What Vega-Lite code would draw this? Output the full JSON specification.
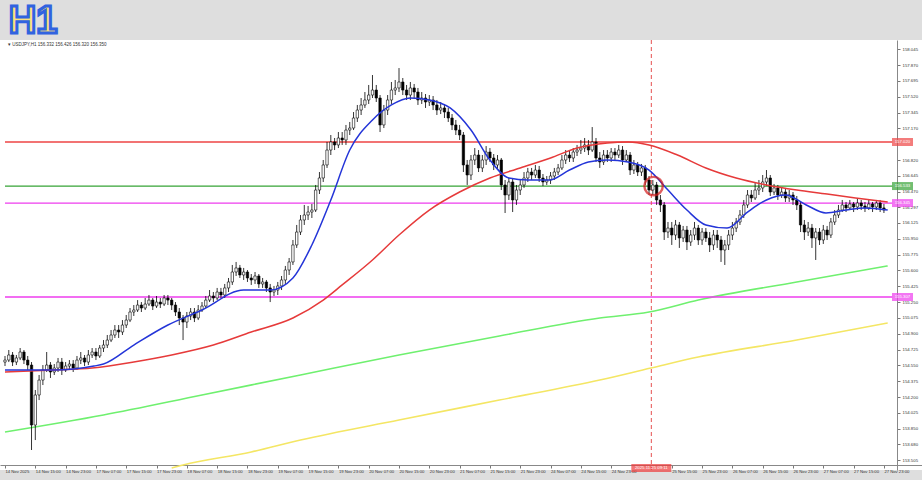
{
"$schema": "https://vega.github.io/schema/vega-lite/v6.json",
"width": 922, "height": 430,
"autosize": {"type": "none"},
"padding": {"left": 0, "top": 40, "right": 0, "bottom": 10},
"background": "#dedede",
"view": {"fill": "#ffffff", "stroke": null},
"config": {"font": "Liberation Sans",
 "axis": {"labelOverlap": false, "labelBound": false, "labelFlush": false, "labelSeparation": 0, "labelFont": "Liberation Sans"},
 "axisQuantitative": {"labelOverlap": false},
 "axisX": {"labelOverlap": false}, "axisY": {"labelOverlap": false}},
"resolve": {"axis": {"x": "independent", "y": "independent"}},
"datasets": {
"candles": [
{"i":0,"o":154.588,"h":154.655,"l":154.544,"c":154.610},
{"i":1,"o":154.610,"h":154.721,"l":154.588,"c":154.666},
{"i":2,"o":154.666,"h":154.699,"l":154.544,"c":154.588},
{"i":3,"o":154.588,"h":154.666,"l":154.555,"c":154.633},
{"i":4,"o":154.633,"h":154.743,"l":154.610,"c":154.699},
{"i":5,"o":154.699,"h":154.721,"l":154.566,"c":154.610},
{"i":6,"o":154.610,"h":154.655,"l":154.500,"c":154.555},
{"i":7,"o":154.555,"h":154.588,"l":153.616,"c":153.892},
{"i":8,"o":153.892,"h":154.279,"l":153.726,"c":154.224},
{"i":9,"o":154.224,"h":154.445,"l":154.168,"c":154.389},
{"i":10,"o":154.389,"h":154.555,"l":154.334,"c":154.500},
{"i":11,"o":154.500,"h":154.699,"l":154.478,"c":154.555},
{"i":12,"o":154.555,"h":154.588,"l":154.412,"c":154.478},
{"i":13,"o":154.478,"h":154.566,"l":154.445,"c":154.522},
{"i":14,"o":154.522,"h":154.633,"l":154.478,"c":154.588},
{"i":15,"o":154.588,"h":154.633,"l":154.445,"c":154.500},
{"i":16,"o":154.500,"h":154.588,"l":154.478,"c":154.544},
{"i":17,"o":154.544,"h":154.610,"l":154.500,"c":154.566},
{"i":18,"o":154.566,"h":154.610,"l":154.478,"c":154.522},
{"i":19,"o":154.522,"h":154.655,"l":154.500,"c":154.610},
{"i":20,"o":154.610,"h":154.699,"l":154.566,"c":154.633},
{"i":21,"o":154.633,"h":154.666,"l":154.544,"c":154.588},
{"i":22,"o":154.588,"h":154.721,"l":154.555,"c":154.666},
{"i":23,"o":154.666,"h":154.743,"l":154.633,"c":154.699},
{"i":24,"o":154.699,"h":154.743,"l":154.610,"c":154.655},
{"i":25,"o":154.655,"h":154.776,"l":154.633,"c":154.743},
{"i":26,"o":154.743,"h":154.831,"l":154.699,"c":154.776},
{"i":27,"o":154.776,"h":154.887,"l":154.743,"c":154.831},
{"i":28,"o":154.831,"h":154.942,"l":154.809,"c":154.887},
{"i":29,"o":154.887,"h":154.997,"l":154.854,"c":154.942},
{"i":30,"o":154.942,"h":154.997,"l":154.854,"c":154.920},
{"i":31,"o":154.920,"h":155.052,"l":154.887,"c":154.997},
{"i":32,"o":154.997,"h":155.108,"l":154.964,"c":155.052},
{"i":33,"o":155.052,"h":155.185,"l":155.030,"c":155.141},
{"i":34,"o":155.141,"h":155.218,"l":155.097,"c":155.163},
{"i":35,"o":155.163,"h":155.273,"l":155.141,"c":155.218},
{"i":36,"o":155.218,"h":155.251,"l":155.141,"c":155.185},
{"i":37,"o":155.185,"h":155.296,"l":155.163,"c":155.229},
{"i":38,"o":155.229,"h":155.329,"l":155.207,"c":155.273},
{"i":39,"o":155.273,"h":155.296,"l":155.163,"c":155.207},
{"i":40,"o":155.207,"h":155.318,"l":155.185,"c":155.251},
{"i":41,"o":155.251,"h":155.296,"l":155.185,"c":155.229},
{"i":42,"o":155.229,"h":155.329,"l":155.207,"c":155.296},
{"i":43,"o":155.296,"h":155.329,"l":155.218,"c":155.273},
{"i":44,"o":155.273,"h":155.296,"l":155.163,"c":155.218},
{"i":45,"o":155.218,"h":155.251,"l":155.097,"c":155.141},
{"i":46,"o":155.141,"h":155.185,"l":154.997,"c":155.075},
{"i":47,"o":155.075,"h":155.108,"l":154.831,"c":155.030},
{"i":48,"o":155.030,"h":155.141,"l":154.964,"c":155.097},
{"i":49,"o":155.097,"h":155.185,"l":155.052,"c":155.141},
{"i":50,"o":155.141,"h":155.185,"l":155.030,"c":155.075},
{"i":51,"o":155.075,"h":155.218,"l":155.052,"c":155.163},
{"i":52,"o":155.163,"h":155.251,"l":155.141,"c":155.207},
{"i":53,"o":155.207,"h":155.318,"l":155.185,"c":155.273},
{"i":54,"o":155.273,"h":155.384,"l":155.251,"c":155.318},
{"i":55,"o":155.318,"h":155.362,"l":155.251,"c":155.296},
{"i":56,"o":155.296,"h":155.407,"l":155.273,"c":155.362},
{"i":57,"o":155.362,"h":155.407,"l":155.296,"c":155.329},
{"i":58,"o":155.329,"h":155.451,"l":155.296,"c":155.407},
{"i":59,"o":155.407,"h":155.517,"l":155.362,"c":155.473},
{"i":60,"o":155.473,"h":155.661,"l":155.440,"c":155.583},
{"i":61,"o":155.583,"h":155.694,"l":155.539,"c":155.628},
{"i":62,"o":155.628,"h":155.661,"l":155.517,"c":155.550},
{"i":63,"o":155.550,"h":155.628,"l":155.495,"c":155.583},
{"i":64,"o":155.583,"h":155.605,"l":155.473,"c":155.517},
{"i":65,"o":155.517,"h":155.561,"l":155.440,"c":155.495},
{"i":66,"o":155.495,"h":155.583,"l":155.451,"c":155.539},
{"i":67,"o":155.539,"h":155.561,"l":155.407,"c":155.451},
{"i":68,"o":155.451,"h":155.517,"l":155.407,"c":155.473},
{"i":69,"o":155.473,"h":155.495,"l":155.362,"c":155.407},
{"i":70,"o":155.407,"h":155.451,"l":155.251,"c":155.362},
{"i":71,"o":155.362,"h":155.429,"l":155.318,"c":155.384},
{"i":72,"o":155.384,"h":155.473,"l":155.329,"c":155.429},
{"i":73,"o":155.429,"h":155.539,"l":155.384,"c":155.495},
{"i":74,"o":155.495,"h":155.650,"l":155.451,"c":155.605},
{"i":75,"o":155.605,"h":155.738,"l":155.550,"c":155.694},
{"i":76,"o":155.694,"h":155.937,"l":155.661,"c":155.882},
{"i":77,"o":155.882,"h":156.103,"l":155.849,"c":156.025},
{"i":78,"o":156.025,"h":156.213,"l":155.992,"c":156.158},
{"i":79,"o":156.158,"h":156.324,"l":156.103,"c":156.213},
{"i":80,"o":156.213,"h":156.313,"l":156.158,"c":156.246},
{"i":81,"o":156.246,"h":156.335,"l":156.180,"c":156.268},
{"i":82,"o":156.268,"h":156.545,"l":156.246,"c":156.489},
{"i":83,"o":156.489,"h":156.688,"l":156.445,"c":156.622},
{"i":84,"o":156.622,"h":156.821,"l":156.578,"c":156.766},
{"i":85,"o":156.766,"h":157.020,"l":156.733,"c":156.931},
{"i":86,"o":156.931,"h":157.097,"l":156.876,"c":157.020},
{"i":87,"o":157.020,"h":157.064,"l":156.931,"c":156.987},
{"i":88,"o":156.987,"h":157.130,"l":156.953,"c":157.064},
{"i":89,"o":157.064,"h":157.130,"l":156.987,"c":157.042},
{"i":90,"o":157.042,"h":157.208,"l":156.987,"c":157.152},
{"i":91,"o":157.152,"h":157.241,"l":157.097,"c":157.174},
{"i":92,"o":157.174,"h":157.351,"l":157.152,"c":157.285},
{"i":93,"o":157.285,"h":157.429,"l":157.241,"c":157.373},
{"i":94,"o":157.373,"h":157.506,"l":157.318,"c":157.429},
{"i":95,"o":157.429,"h":157.572,"l":157.396,"c":157.484},
{"i":96,"o":157.484,"h":157.650,"l":157.440,"c":157.539},
{"i":97,"o":157.539,"h":157.760,"l":157.506,"c":157.594},
{"i":98,"o":157.594,"h":157.650,"l":157.462,"c":157.506},
{"i":99,"o":157.506,"h":157.539,"l":157.130,"c":157.208},
{"i":100,"o":157.208,"h":157.429,"l":157.174,"c":157.373},
{"i":101,"o":157.373,"h":157.539,"l":157.318,"c":157.484},
{"i":102,"o":157.484,"h":157.683,"l":157.440,"c":157.594},
{"i":103,"o":157.594,"h":157.705,"l":157.539,"c":157.617},
{"i":104,"o":157.617,"h":157.837,"l":157.572,"c":157.683},
{"i":105,"o":157.683,"h":157.727,"l":157.539,"c":157.594},
{"i":106,"o":157.594,"h":157.650,"l":157.484,"c":157.539},
{"i":107,"o":157.539,"h":157.683,"l":157.484,"c":157.617},
{"i":108,"o":157.617,"h":157.661,"l":157.506,"c":157.572},
{"i":109,"o":157.572,"h":157.617,"l":157.429,"c":157.484},
{"i":110,"o":157.484,"h":157.572,"l":157.440,"c":157.506},
{"i":111,"o":157.506,"h":157.550,"l":157.396,"c":157.462},
{"i":112,"o":157.462,"h":157.539,"l":157.418,"c":157.484},
{"i":113,"o":157.484,"h":157.528,"l":157.373,"c":157.429},
{"i":114,"o":157.429,"h":157.484,"l":157.318,"c":157.373},
{"i":115,"o":157.373,"h":157.462,"l":157.329,"c":157.396},
{"i":116,"o":157.396,"h":157.440,"l":157.285,"c":157.351},
{"i":117,"o":157.351,"h":157.396,"l":157.241,"c":157.285},
{"i":118,"o":157.285,"h":157.329,"l":157.152,"c":157.208},
{"i":119,"o":157.208,"h":157.263,"l":157.097,"c":157.152},
{"i":120,"o":157.152,"h":157.208,"l":157.042,"c":157.097},
{"i":121,"o":157.097,"h":157.130,"l":156.688,"c":156.766},
{"i":122,"o":156.766,"h":156.821,"l":156.545,"c":156.655},
{"i":123,"o":156.655,"h":156.876,"l":156.600,"c":156.821},
{"i":124,"o":156.821,"h":156.953,"l":156.766,"c":156.876},
{"i":125,"o":156.876,"h":156.931,"l":156.688,"c":156.733},
{"i":126,"o":156.733,"h":156.876,"l":156.688,"c":156.821},
{"i":127,"o":156.821,"h":156.975,"l":156.766,"c":156.909},
{"i":128,"o":156.909,"h":156.953,"l":156.799,"c":156.843},
{"i":129,"o":156.843,"h":156.887,"l":156.710,"c":156.766},
{"i":130,"o":156.766,"h":156.876,"l":156.710,"c":156.821},
{"i":131,"o":156.821,"h":156.843,"l":156.489,"c":156.545},
{"i":132,"o":156.545,"h":156.600,"l":156.235,"c":156.434},
{"i":133,"o":156.434,"h":156.622,"l":156.379,"c":156.578},
{"i":134,"o":156.578,"h":156.622,"l":156.246,"c":156.379},
{"i":135,"o":156.379,"h":156.545,"l":156.324,"c":156.489},
{"i":136,"o":156.489,"h":156.600,"l":156.434,"c":156.545},
{"i":137,"o":156.545,"h":156.688,"l":156.512,"c":156.622},
{"i":138,"o":156.622,"h":156.733,"l":156.578,"c":156.688},
{"i":139,"o":156.688,"h":156.733,"l":156.600,"c":156.655},
{"i":140,"o":156.655,"h":156.766,"l":156.622,"c":156.710},
{"i":141,"o":156.710,"h":156.755,"l":156.578,"c":156.622},
{"i":142,"o":156.622,"h":156.666,"l":156.533,"c":156.578},
{"i":143,"o":156.578,"h":156.644,"l":156.545,"c":156.600},
{"i":144,"o":156.600,"h":156.688,"l":156.556,"c":156.644},
{"i":145,"o":156.644,"h":156.733,"l":156.600,"c":156.688},
{"i":146,"o":156.688,"h":156.777,"l":156.655,"c":156.733},
{"i":147,"o":156.733,"h":156.876,"l":156.710,"c":156.821},
{"i":148,"o":156.821,"h":156.931,"l":156.777,"c":156.876},
{"i":149,"o":156.876,"h":156.931,"l":156.799,"c":156.843},
{"i":150,"o":156.843,"h":156.953,"l":156.799,"c":156.909},
{"i":151,"o":156.909,"h":156.987,"l":156.865,"c":156.931},
{"i":152,"o":156.931,"h":157.042,"l":156.887,"c":156.953},
{"i":153,"o":156.953,"h":157.064,"l":156.909,"c":156.987},
{"i":154,"o":156.987,"h":157.042,"l":156.876,"c":156.931},
{"i":155,"o":156.931,"h":157.185,"l":156.909,"c":157.020},
{"i":156,"o":157.020,"h":157.064,"l":156.799,"c":156.843},
{"i":157,"o":156.843,"h":156.909,"l":156.733,"c":156.799},
{"i":158,"o":156.799,"h":156.931,"l":156.766,"c":156.876},
{"i":159,"o":156.876,"h":156.931,"l":156.799,"c":156.843},
{"i":160,"o":156.843,"h":156.953,"l":156.799,"c":156.909},
{"i":161,"o":156.909,"h":156.953,"l":156.821,"c":156.876},
{"i":162,"o":156.876,"h":156.987,"l":156.843,"c":156.931},
{"i":163,"o":156.931,"h":156.975,"l":156.766,"c":156.821},
{"i":164,"o":156.821,"h":156.931,"l":156.799,"c":156.876},
{"i":165,"o":156.876,"h":156.909,"l":156.655,"c":156.710},
{"i":166,"o":156.710,"h":156.821,"l":156.666,"c":156.766},
{"i":167,"o":156.766,"h":156.799,"l":156.644,"c":156.688},
{"i":168,"o":156.688,"h":156.777,"l":156.644,"c":156.733},
{"i":169,"o":156.733,"h":156.766,"l":156.545,"c":156.600},
{"i":170,"o":156.600,"h":156.644,"l":156.434,"c":156.489},
{"i":171,"o":156.489,"h":156.600,"l":156.434,"c":156.545},
{"i":172,"o":156.545,"h":156.578,"l":156.324,"c":156.379},
{"i":173,"o":156.379,"h":156.434,"l":156.246,"c":156.324},
{"i":174,"o":156.324,"h":156.357,"l":155.937,"c":156.025},
{"i":175,"o":156.025,"h":156.136,"l":155.959,"c":156.069},
{"i":176,"o":156.069,"h":156.136,"l":155.882,"c":155.992},
{"i":177,"o":155.992,"h":156.158,"l":155.937,"c":156.103},
{"i":178,"o":156.103,"h":156.136,"l":155.849,"c":155.959},
{"i":179,"o":155.959,"h":156.092,"l":155.915,"c":156.047},
{"i":180,"o":156.047,"h":156.092,"l":155.826,"c":155.915},
{"i":181,"o":155.915,"h":156.047,"l":155.871,"c":155.992},
{"i":182,"o":155.992,"h":156.136,"l":155.937,"c":156.069},
{"i":183,"o":156.069,"h":156.103,"l":155.882,"c":155.937},
{"i":184,"o":155.937,"h":156.069,"l":155.882,"c":156.025},
{"i":185,"o":156.025,"h":156.069,"l":155.915,"c":155.959},
{"i":186,"o":155.959,"h":156.025,"l":155.804,"c":155.882},
{"i":187,"o":155.882,"h":156.047,"l":155.826,"c":155.992},
{"i":188,"o":155.992,"h":156.047,"l":155.849,"c":155.937},
{"i":189,"o":155.937,"h":155.981,"l":155.694,"c":155.826},
{"i":190,"o":155.826,"h":155.937,"l":155.661,"c":155.882},
{"i":191,"o":155.882,"h":156.047,"l":155.826,"c":155.992},
{"i":192,"o":155.992,"h":156.136,"l":155.937,"c":156.069},
{"i":193,"o":156.069,"h":156.180,"l":156.025,"c":156.136},
{"i":194,"o":156.136,"h":156.268,"l":156.103,"c":156.213},
{"i":195,"o":156.213,"h":156.379,"l":156.180,"c":156.324},
{"i":196,"o":156.324,"h":156.489,"l":156.291,"c":156.434},
{"i":197,"o":156.434,"h":156.489,"l":156.357,"c":156.401},
{"i":198,"o":156.401,"h":156.578,"l":156.379,"c":156.489},
{"i":199,"o":156.489,"h":156.600,"l":156.434,"c":156.512},
{"i":200,"o":156.512,"h":156.655,"l":156.467,"c":156.578},
{"i":201,"o":156.578,"h":156.710,"l":156.533,"c":156.622},
{"i":202,"o":156.622,"h":156.655,"l":156.423,"c":156.467},
{"i":203,"o":156.467,"h":156.556,"l":156.434,"c":156.512},
{"i":204,"o":156.512,"h":156.545,"l":156.379,"c":156.434},
{"i":205,"o":156.434,"h":156.512,"l":156.401,"c":156.467},
{"i":206,"o":156.467,"h":156.512,"l":156.357,"c":156.401},
{"i":207,"o":156.401,"h":156.489,"l":156.357,"c":156.434},
{"i":208,"o":156.434,"h":156.467,"l":156.324,"c":156.379},
{"i":209,"o":156.379,"h":156.423,"l":156.268,"c":156.324},
{"i":210,"o":156.324,"h":156.357,"l":156.025,"c":156.103},
{"i":211,"o":156.103,"h":156.158,"l":155.937,"c":156.025},
{"i":212,"o":156.025,"h":156.136,"l":155.981,"c":156.069},
{"i":213,"o":156.069,"h":156.114,"l":155.849,"c":155.959},
{"i":214,"o":155.959,"h":156.069,"l":155.716,"c":156.025},
{"i":215,"o":156.025,"h":156.069,"l":155.882,"c":155.937},
{"i":216,"o":155.937,"h":156.103,"l":155.893,"c":156.047},
{"i":217,"o":156.047,"h":156.092,"l":155.937,"c":155.992},
{"i":218,"o":155.992,"h":156.180,"l":155.959,"c":156.136},
{"i":219,"o":156.136,"h":156.268,"l":156.103,"c":156.213},
{"i":220,"o":156.213,"h":156.324,"l":156.180,"c":156.268},
{"i":221,"o":156.268,"h":156.379,"l":156.246,"c":156.324},
{"i":222,"o":156.324,"h":156.357,"l":156.246,"c":156.291},
{"i":223,"o":156.291,"h":156.379,"l":156.268,"c":156.335},
{"i":224,"o":156.335,"h":156.357,"l":156.246,"c":156.302},
{"i":225,"o":156.302,"h":156.401,"l":156.268,"c":156.346},
{"i":226,"o":156.346,"h":156.379,"l":156.268,"c":156.313},
{"i":227,"o":156.313,"h":156.357,"l":156.246,"c":156.291},
{"i":228,"o":156.291,"h":156.379,"l":156.268,"c":156.335},
{"i":229,"o":156.335,"h":156.357,"l":156.246,"c":156.302},
{"i":230,"o":156.302,"h":156.379,"l":156.268,"c":156.346},
{"i":231,"o":156.346,"h":156.379,"l":156.246,"c":156.291},
{"i":232,"o":156.291,"h":156.335,"l":156.235,"c":156.268}
],
"ma": [
{"s":"blue","i":0,"v":154.500},{"s":"blue","i":13,"v":154.500},{"s":"blue","i":23.5,"v":154.544},{"s":"blue","i":26,"v":154.566},{"s":"blue","i":34,"v":154.776},{"s":"blue","i":43,"v":154.997},{"s":"blue","i":52,"v":155.163},{"s":"blue","i":63,"v":155.384},{"s":"blue","i":70,"v":155.384},{"s":"blue","i":76,"v":155.517},{"s":"blue","i":81,"v":155.882},{"s":"blue","i":86,"v":156.379},{"s":"blue","i":91,"v":156.931},{"s":"blue","i":97,"v":157.263},{"s":"blue","i":102,"v":157.429},{"s":"blue","i":107,"v":157.506},{"s":"blue","i":112,"v":157.484},{"s":"blue","i":117.5,"v":157.396},{"s":"blue","i":123,"v":157.152},{"s":"blue","i":128,"v":156.821},{"s":"blue","i":133,"v":156.622},{"s":"blue","i":138,"v":156.600},{"s":"blue","i":143.6,"v":156.600},{"s":"blue","i":149,"v":156.710},{"s":"blue","i":154,"v":156.799},{"s":"blue","i":159,"v":156.821},{"s":"blue","i":164.5,"v":156.799},{"s":"blue","i":170,"v":156.710},{"s":"blue","i":175,"v":156.489},{"s":"blue","i":180,"v":156.268},{"s":"blue","i":185,"v":156.103},{"s":"blue","i":190.6,"v":156.069},{"s":"blue","i":196,"v":156.246},{"s":"blue","i":201,"v":156.379},{"s":"blue","i":206,"v":156.434},{"s":"blue","i":211.5,"v":156.324},{"s":"blue","i":216.7,"v":156.235},{"s":"blue","i":222,"v":156.268},{"s":"blue","i":227,"v":156.291},{"s":"blue","i":233,"v":156.268},
{"s":"red","i":0,"v":154.478},{"s":"red","i":13,"v":154.500},{"s":"red","i":23,"v":154.522},{"s":"red","i":34,"v":154.588},{"s":"red","i":44,"v":154.666},{"s":"red","i":55,"v":154.776},{"s":"red","i":65,"v":154.920},{"s":"red","i":76,"v":155.075},{"s":"red","i":84,"v":155.273},{"s":"red","i":89,"v":155.440},{"s":"red","i":97,"v":155.716},{"s":"red","i":104,"v":155.992},{"s":"red","i":112,"v":156.268},{"s":"red","i":120,"v":156.467},{"s":"red","i":128,"v":156.622},{"s":"red","i":136,"v":156.733},{"s":"red","i":144,"v":156.843},{"s":"red","i":151,"v":156.953},{"s":"red","i":159,"v":157.009},{"s":"red","i":164.5,"v":157.020},{"s":"red","i":170,"v":156.987},{"s":"red","i":177.5,"v":156.876},{"s":"red","i":185,"v":156.733},{"s":"red","i":193,"v":156.622},{"s":"red","i":201,"v":156.545},{"s":"red","i":209,"v":156.489},{"s":"red","i":217,"v":156.445},{"s":"red","i":224.5,"v":156.401},{"s":"red","i":233,"v":156.357},
{"s":"green","i":0,"v":153.815},{"s":"green","i":26,"v":154.003},{"s":"green","i":52,"v":154.224},{"s":"green","i":78,"v":154.445},{"s":"green","i":104,"v":154.666},{"s":"green","i":130.5,"v":154.876},{"s":"green","i":157,"v":155.075},{"s":"green","i":170,"v":155.141},{"s":"green","i":183,"v":155.273},{"s":"green","i":209,"v":155.473},{"s":"green","i":233,"v":155.650},
{"s":"yellow","i":44,"v":153.417},{"s":"yellow","i":47,"v":153.450},{"s":"yellow","i":65,"v":153.594},{"s":"yellow","i":78,"v":153.726},{"s":"yellow","i":104,"v":153.947},{"s":"yellow","i":130.5,"v":154.168},{"s":"yellow","i":157,"v":154.389},{"s":"yellow","i":170.5,"v":154.522},{"s":"yellow","i":183,"v":154.643},{"s":"yellow","i":209,"v":154.831},{"s":"yellow","i":233,"v":155.019}
],
"levels": [
{"k":"r","p":157.020},{"k":"g","p":156.533},{"k":"m1","p":156.345},{"k":"m2","p":155.307}
],
"cursor": [{"i":170.6,"p":153.417,"t":"2025.11.25 09:11"}],
"circle": [{"i":171.2,"p":156.533}],
"header": [{"i":0.8,"p":158.092,"t":"▾ USDJPY,H1  156.332 156.426 156.320 156.350"}],
"badge": [{"i":1.0,"p":158.346,"t":"H1"}]
},
"layer": [
{"data": {"name": "ma"}, "transform": [{"filter": "datum.s === 'yellow'"}],
 "mark": {"type": "line", "color": "#f4e664", "strokeWidth": 1.6, "clip": true, "interpolate": "monotone"},
 "encoding": {
  "x": {"field": "i", "type": "quantitative", "scale": {"domain": [0, 240.73], "nice": false, "zero": false},
   "axis": {"orient": "bottom", "offset": -5, "title": null, "grid": false,
    "values": [0,8,16,24,32,40,48,56,64,72,80,88,96,104,112,120,128,136,144,152,160,176,184,192,200,208,216,224,232],
    "labelExpr": "['14 Nov 2025','14 Nov 15:00','14 Nov 23:00','17 Nov 07:00','17 Nov 15:00','17 Nov 23:00','18 Nov 07:00','18 Nov 15:00','18 Nov 23:00','19 Nov 07:00','19 Nov 15:00','19 Nov 23:00','20 Nov 07:00','20 Nov 15:00','20 Nov 23:00','21 Nov 07:00','21 Nov 15:00','21 Nov 23:00','24 Nov 07:00','24 Nov 15:00','24 Nov 23:00','25 Nov 07:00','25 Nov 15:00','25 Nov 23:00','26 Nov 07:00','26 Nov 15:00','26 Nov 23:00','27 Nov 07:00','27 Nov 15:00','27 Nov 23:00'][round(datum.value/8)]",
    "labelAlign": "left", "labelBaseline": "top", "labelPadding": 1, "labelFontSize": 4.2, "labelColor": "#333333",
    "labelOverlap": false, "labelBound": false, "labelFlush": false, "labelSeparation": 0,
    "tickSize": 3, "tickColor": "#777777", "domainColor": "#888888"}},
  "y": {"field": "v", "type": "quantitative", "scale": {"domain": [153.395, 158.147], "nice": false, "zero": false},
   "axis": {"orient": "right", "offset": -25, "title": null, "grid": false,
    "values": [153.505,153.680,153.850,154.025,154.200,154.375,154.550,154.725,154.900,155.075,155.250,155.425,155.600,155.775,155.950,156.125,156.297,156.470,156.645,156.820,157.170,157.345,157.520,157.695,157.870,158.045],
    "format": ".3f", "labelAlign": "left", "labelBaseline": "middle", "labelPadding": 2, "labelFontSize": 4.3, "labelColor": "#333333",
    "labelOverlap": false, "labelBound": false, "labelFlush": false, "labelSeparation": 0,
    "tickSize": 3, "tickColor": "#777777", "domainColor": "#888888"}}
 }},
{"data": {"name": "ma"}, "transform": [{"filter": "datum.s === 'green'"}],
 "mark": {"type": "line", "color": "#6ff06f", "strokeWidth": 1.6, "clip": true, "interpolate": "monotone"},
 "encoding": {"x": {"field": "i", "type": "quantitative", "axis": null}, "y": {"field": "v", "type": "quantitative", "axis": null}}},
{"data": {"name": "levels"},
 "mark": {"type": "rule", "strokeWidth": 1.3},
 "encoding": {"x": {"datum": 0, "axis": null}, "x2": {"datum": 234.2},
  "y": {"field": "p", "type": "quantitative", "axis": null},
  "color": {"field": "k", "type": "nominal", "legend": null,
   "scale": {"domain": ["r","g","m1","m2"], "range": ["#ee4545","#36a336","#ee3cee","#ee3cee"]}}}},
{"data": {"name": "cursor"},
 "mark": {"type": "rule", "color": "#e65050", "strokeWidth": 1, "strokeDash": [4, 3]},
 "encoding": {"x": {"field": "i", "type": "quantitative", "axis": null}}},
{"data": {"name": "candles"},
 "mark": {"type": "rule", "color": "#000000", "strokeWidth": 0.8, "clip": true},
 "encoding": {"x": {"field": "i", "type": "quantitative", "axis": null},
  "y": {"field": "l", "type": "quantitative", "axis": null}, "y2": {"field": "h"}}},
{"data": {"name": "candles"},
 "mark": {"type": "bar", "orient": "vertical", "size": 2.4, "stroke": "#000000", "strokeWidth": 0.6, "clip": true},
 "encoding": {"x": {"field": "i", "type": "quantitative", "axis": null},
  "y": {"field": "o", "type": "quantitative", "axis": null}, "y2": {"field": "c"},
  "fill": {"condition": {"test": "datum.o > datum.c", "value": "#000000"}, "value": "#ffffff"}}},
{"data": {"name": "ma"}, "transform": [{"filter": "datum.s === 'red'"}],
 "mark": {"type": "line", "color": "#e63a3a", "strokeWidth": 1.5, "clip": true, "interpolate": "monotone"},
 "encoding": {"x": {"field": "i", "type": "quantitative", "axis": null}, "y": {"field": "v", "type": "quantitative", "axis": null}}},
{"data": {"name": "ma"}, "transform": [{"filter": "datum.s === 'blue'"}],
 "mark": {"type": "line", "color": "#2435d8", "strokeWidth": 1.5, "clip": true, "interpolate": "monotone"},
 "encoding": {"x": {"field": "i", "type": "quantitative", "axis": null}, "y": {"field": "v", "type": "quantitative", "axis": null}}},
{"data": {"name": "circle"},
 "mark": {"type": "point", "shape": "circle", "filled": false, "size": 340, "stroke": "#d41c1c", "strokeWidth": 2.4},
 "encoding": {"x": {"field": "i", "type": "quantitative", "axis": null}, "y": {"field": "p", "type": "quantitative", "axis": null}}},
{"data": {"name": "levels"},
 "mark": {"type": "tick", "orient": "horizontal", "size": 21, "thickness": 8},
 "encoding": {"x": {"datum": 236.9, "axis": null}, "y": {"field": "p", "type": "quantitative", "axis": null},
  "color": {"field": "k", "type": "nominal", "legend": null}}},
{"data": {"name": "levels"},
 "mark": {"type": "text", "fontSize": 4.3, "color": "#ffffff", "align": "center", "baseline": "middle"},
 "encoding": {"x": {"datum": 236.9, "axis": null}, "y": {"field": "p", "type": "quantitative", "axis": null},
  "text": {"field": "p", "type": "quantitative", "format": ".3f"}}},
{"data": {"name": "cursor"},
 "mark": {"type": "tick", "orient": "horizontal", "size": 40, "thickness": 8, "color": "#ee3a3a"},
 "encoding": {"x": {"field": "i", "type": "quantitative", "axis": null}, "y": {"field": "p", "type": "quantitative", "axis": null}}},
{"data": {"name": "cursor"},
 "mark": {"type": "text", "fontSize": 4.3, "color": "#ffffff", "align": "center", "baseline": "middle"},
 "encoding": {"x": {"field": "i", "type": "quantitative", "axis": null}, "y": {"field": "p", "type": "quantitative", "axis": null}, "text": {"field": "t"}}},
{"data": {"name": "header"},
 "mark": {"type": "text", "fontSize": 4.5, "color": "#333333", "align": "left", "baseline": "middle"},
 "encoding": {"x": {"field": "i", "type": "quantitative", "axis": null}, "y": {"field": "p", "type": "quantitative", "axis": null}, "text": {"field": "t"}}},
{"data": {"name": "badge"},
 "mark": {"type": "text", "font": "Liberation Sans", "fontSize": 38, "fontWeight": "bold", "color": "#fbe27c", "stroke": "#3163e0", "strokeWidth": 3, "align": "left", "baseline": "middle"},
 "encoding": {"x": {"field": "i", "type": "quantitative", "axis": null}, "y": {"field": "p", "type": "quantitative", "axis": null}, "text": {"field": "t"}}}
]
}
